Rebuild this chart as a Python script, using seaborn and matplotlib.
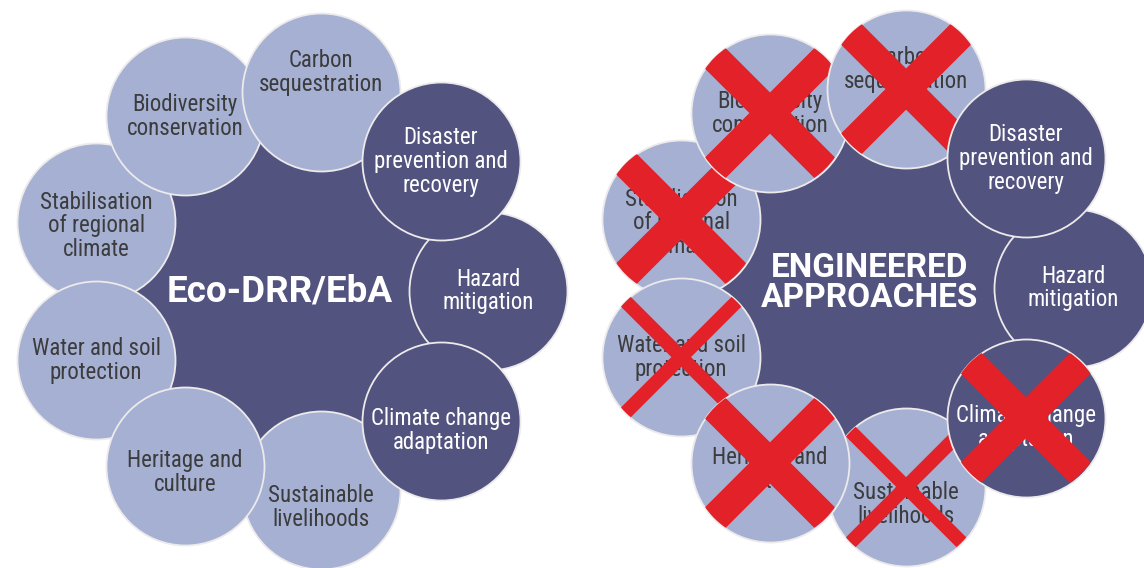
import matplotlib
matplotlib.use("Agg")
import matplotlib.pyplot as plt
from matplotlib import font_manager
from matplotlib.patches import Circle
import numpy as np
import pandas as pd
import seaborn as sns

# petals, counter-clockwise from the right (3 o'clock), 40 degrees apart
labels = ["Hazard\nmitigation",
          "Disaster\nprevention and\nrecovery",
          "Carbon\nsequestration",
          "Biodiversity\nconservation",
          "Stabilisation\nof regional\nclimate",
          "Water and soil\nprotection",
          "Heritage and\nculture",
          "Sustainable\nlivelihoods",
          "Climate change\nadaptation"]
angles = [0, 40, 80, 120, 160, 200, 240, 280, 320]
kind = ["dark", "dark", "light", "light", "light", "light", "light", "light", "dark"]
# crosses on the right-hand diagram: none / thick / thin
crossed = ["none", "none", "thick", "thick", "thick", "thin", "thick", "thin", "thick"]

titles = ["Eco-DRR/EbA", "ENGINEERED\nAPPROACHES"]

# layout (pixels)
centers = [(286, 291), (871, 288)]
ring_r = 202
petal_r = 79
hub_r = 195
stack = [4, 7, 0, 5, 6, 3, 2, 1, 8]   # draw order, bottom to top
text_dy = {2: -20, 7: 18, 6: 7, 8: 10, 4: 4}
title_xy = [(280, 291), (870, 283)]

colors = {"light": "#A5B0D3", "dark": "#535380"}
text_colors = {"light": "#3C3C3C", "dark": "white"}
red = "#E32129"

sns.set_theme(style="white")

narrow = "Roboto"
for cand in ["Liberation Sans Narrow", "Roboto Condensed"]:
    try:
        font_manager.findfont(cand, fallback_to_default=False)
        narrow = cand
        break
    except Exception:
        pass
plt.rcParams["font.family"] = [narrow, "DejaVu Sans"]

fig = plt.figure(figsize=(11.44, 5.68), dpi=100)
ax = fig.add_axes([0, 0, 1, 1])
ax.set_xlim(0, 1144)
ax.set_ylim(568, 0)
ax.axis("off")

px = 72 / 100  # points per pixel


def marker_area(r):
    return (2 * r * px) ** 2


for side, (cx, cy) in enumerate(centers):
    hub = pd.DataFrame({"x": [cx], "y": [cy]})
    sns.scatterplot(data=hub, x="x", y="y", s=marker_area(hub_r), color=colors["dark"],
                    edgecolor="none", linewidth=0, ax=ax, legend=False, zorder=1)

    pos = pd.DataFrame({
        "label": labels,
        "kind": kind,
        "cross": crossed,
        "x": [cx + ring_r * np.cos(np.radians(a)) for a in angles],
        "y": [cy - ring_r * np.sin(np.radians(a)) for a in angles],
    })

    for level, i in enumerate(stack):
        row = pos.iloc[i]
        z = 2 + 3 * level
        sns.scatterplot(data=pos.iloc[[i]], x="x", y="y", s=marker_area(petal_r),
                        color=colors[row.kind], edgecolor="#ECEAEA", linewidth=1.3,
                        ax=ax, legend=False, zorder=z)
        ax.text(row.x, row.y + text_dy.get(i, 0), row.label, ha="center", va="center",
                fontsize=16.5, color=text_colors[row.kind], linespacing=1.05,
                zorder=z + 1)
        if side == 1 and row.cross != "none":
            h = 70 if row.cross == "thick" else 60
            lw = 21 if row.cross == "thick" else 10
            clip = Circle((row.x, row.y), petal_r - 0.5, transform=ax.transData)
            for sgn in (1, -1):
                ln, = ax.plot([row.x - h, row.x + h], [row.y - sgn * h, row.y + sgn * h],
                              color=red, lw=lw, solid_capstyle="butt", zorder=z + 2)
                ln.set_clip_path(clip)

    ax.text(title_xy[side][0], title_xy[side][1], titles[side], ha="center", va="center",
            fontsize=26.5 if side == 0 else 24, fontweight="bold", color="white",
            family=["Roboto", "DejaVu Sans"], linespacing=0.95, zorder=1.5)

fig.savefig("out.png", dpi=100, facecolor="white")
